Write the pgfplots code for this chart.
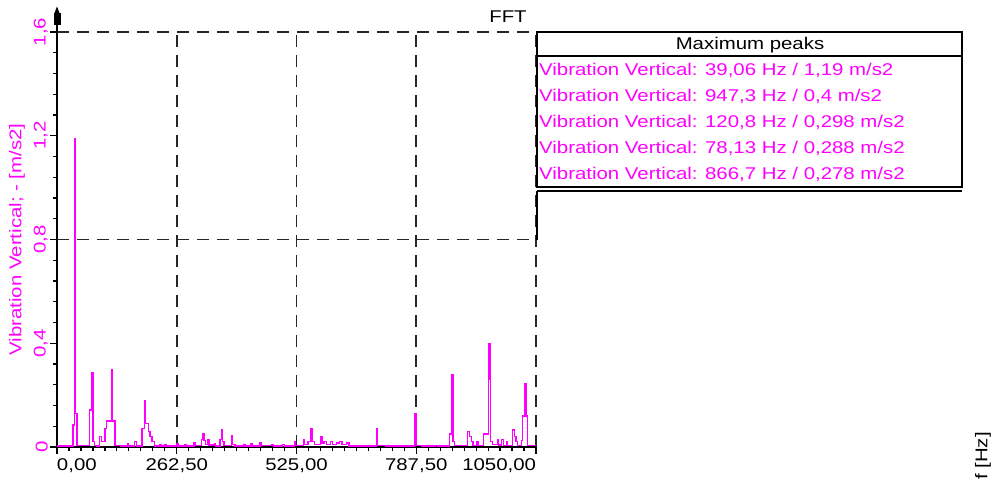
\documentclass[border=0pt]{standalone}
\usepackage{fontspec}
\setmainfont{Liberation Sans}[FakeStretch=1.2]
\usepackage{pgfplots}
\pgfplotsset{compat=1.18}
\usetikzlibrary{arrows.meta}
\definecolor{mag}{RGB}{255,0,255}
\pgfplotstableread{
f v
0 0.004
33 0.004
35 0.085
38 1.19
40 0.13
44 0.005
70 0.005
72 0.143
77 0.288
79 0.02
82 0.005
86 0.004
93 0.04
97 0.02
105 0.07
108 0.1
120 0.298
122 0.1
127 0.005
140 0.004
155 0.012
157 0.004
170 0.02
174 0.004
186 0.07
192 0.18
194 0.09
200 0.06
204 0.04
208 0.02
214 0.004
225 0.008
228 0.004
236 0.01
239 0.004
262 0.012
265 0.004
280 0.008
283 0.004
300 0.015
303 0.005
316 0.03
319 0.05
322 0.025
326 0.01
330 0.03
333 0.008
345 0.012
348 0.004
357 0.03
360 0.065
363 0.02
366 0.005
382 0.045
385 0.01
390 0.004
410 0.01
413 0.004
425 0.012
428 0.004
445 0.015
448 0.006
470 0.008
474 0.004
495 0.01
498 0.004
520 0.02
523 0.005
540 0.03
543 0.01
550 0.02
556 0.07
559 0.02
565 0.01
578 0.04
581 0.015
585 0.02
590 0.01
600 0.02
604 0.01
612 0.015
620 0.02
625 0.01
635 0.015
640 0.004
660 0.006
664 0.004
700 0.07
703 0.005
720 0.004
760 0.004
784 0.13
787 0.005
800 0.004
830 0.006
834 0.004
860 0.05
865 0.278
868 0.02
872 0.005
895 0.005
900 0.06
904 0.04
908 0.02
912 0.005
920 0.02
923 0.005
935 0.05
946 0.4
949 0.26
951 0.02
955 0.01
965 0.03
968 0.008
975 0.03
978 0.005
985 0.02
988 0.005
999 0.065
1003 0.04
1006 0.02
1010 0.005
1018 0.025
1021 0.12
1025 0.245
1028 0.12
1031 0.005
1050 0.005
}\spectrum
\begin{document}
\fontsize{17}{20}\selectfont
\begin{tikzpicture}[x=1pt,y=1pt]
\useasboundingbox (0,0) rectangle (996,484);
\begin{axis}[
  at={(57pt,37pt)}, anchor=south west,
  scale only axis, width=479pt, height=415pt,
  xmin=0, xmax=1050, ymin=0, ymax=1.6,
  axis x line*=bottom, axis y line*=left,
  axis line style={line width=1.6pt, black},
  xtick={0,262.5,525,787.5,1050},
  xticklabels={{\makebox[0pt][l]{0,00}},{262,50},{525,00},{787,50},{\makebox[0pt][r]{1050,00}}},
  ytick={0,0.4,0.8,1.2,1.6},
  yticklabels={0,{0,4},{0,8},{1,2},{1,6}},
  minor x tick num=9, minor y tick num=4,
  tick align=outside, major tick length=7pt, minor tick length=4pt,
  tick style={black, line width=1.2pt},
  xmajorgrids,
  major grid style={black!85, line width=1.8pt, dash pattern=on 12pt off 8pt},
  extra y ticks={0.8,1.6}, extra y tick labels={},
  extra y tick style={grid=major, major tick length=0pt},
  yticklabel style={rotate=90, anchor=south, inner sep=0pt, text=mag, yshift=2pt, font=\fontsize{17}{20}\selectfont},
  xticklabel style={anchor=north, inner sep=0pt, yshift=-4pt, font=\fontsize{17}{20}\selectfont},
  title={FFT},
  title style={at={(axis description cs:0.9415,1)}, anchor=south, inner sep=0pt, yshift=3pt, font=\fontsize{17}{20}\selectfont},
  xlabel={f [Hz]},
  xlabel style={at={(axis description cs:1.9332,0.0361)}, rotate=90, anchor=east, inner sep=0pt, font=\fontsize{17}{20}\selectfont},
  ylabel={Vibration Vertical; - [m/s2]},
  ylabel style={at={(axis description cs:-0.0668,0.5)}, anchor=south, inner sep=0pt, text=mag, font=\fontsize{17}{20}\selectfont},
  clip=false,
]
\addplot[mag, line width=1.3pt, const plot] table[x=f, y=v] {\spectrum};
\end{axis}
% y axis arrow head
\draw[line width=1.6pt] (57,452) -- (57,462);
\fill[black] (53.5,459) rectangle (60.5,471);
\fill[black] (54.5,471) -- (59.5,471) -- (57,477.5) -- cycle;
% peaks box
\draw[line width=1.6pt] (537,452) rectangle (962,297);
\draw[line width=1.6pt] (537,428) -- (962,428);
\node[anchor=center, inner sep=0pt] at (750,439) {Maximum peaks};
\begin{scope}[every node/.style={anchor=west, inner sep=0pt, text=mag}]
\node at (539,414) {Vibration Vertical: 39,06 Hz / 1,19 m/s2};
\node at (539,388) {Vibration Vertical: 947,3 Hz / 0,4 m/s2};
\node at (539,362) {Vibration Vertical: 120,8 Hz / 0,298 m/s2};
\node at (539,336) {Vibration Vertical: 78,13 Hz / 0,288 m/s2};
\node at (539,310) {Vibration Vertical: 866,7 Hz / 0,278 m/s2};
\end{scope}
\draw[line width=1.6pt] (537,293) -- (962,293);
\draw[line width=1.6pt] (537,293) -- (537,244);
\end{tikzpicture}
\end{document}
